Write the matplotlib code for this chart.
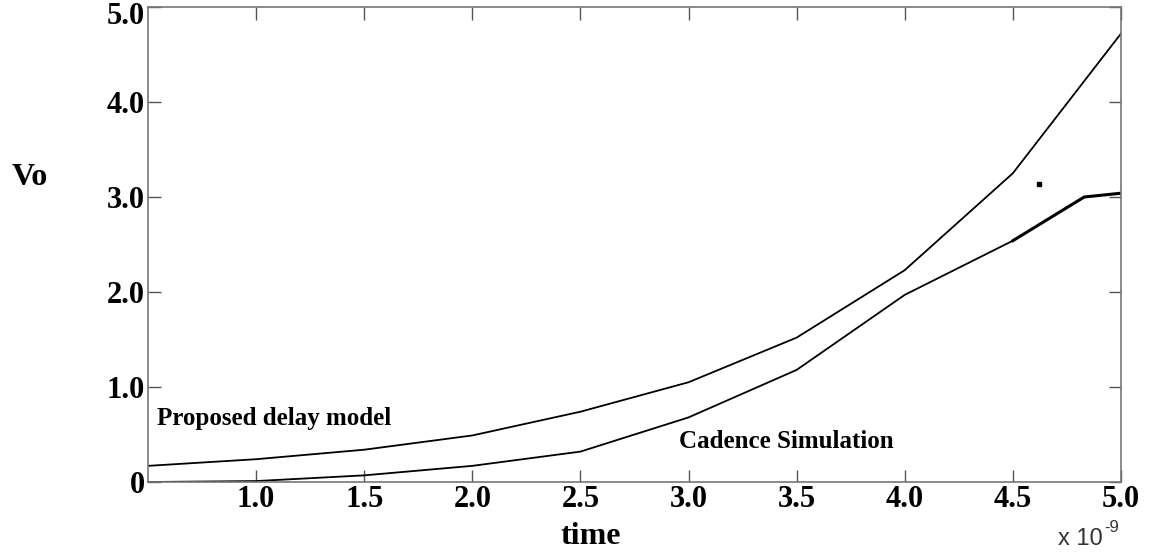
import matplotlib.pyplot as plt
from matplotlib.transforms import ScaledTranslation

# time axis in units of 1e-9 s
t = [0.5, 1.0, 1.5, 2.0, 2.5, 3.0, 3.5, 4.0, 4.5, 5.0]
vo_model = [0.17, 0.24, 0.34, 0.49, 0.74, 1.05, 1.52, 2.23, 3.25, 4.72]

t_cad = [0.5, 1.0, 1.5, 2.0, 2.5, 3.0, 3.5, 4.0, 4.5, 4.83, 5.0]
vo_cad = [0.0, 0.01, 0.07, 0.17, 0.32, 0.68, 1.18, 1.97, 2.54, 3.0, 3.04]

xticks = [1.0, 1.5, 2.0, 2.5, 3.0, 3.5, 4.0, 4.5, 5.0]
yticks = [0, 1.0, 2.0, 3.0, 4.0, 5.0]
ylabels = ['0', '1.0', '2.0', '3.0', '4.0', '5.0']

serif = 'Liberation Serif'

fig = plt.figure(figsize=(11.49, 5.52), dpi=100)
ax = fig.add_axes([0.1288, 0.1268, 0.8468, 0.8605])

ax.plot(t, vo_model, color='black', lw=1.3)
ax.plot(t_cad[:-2], vo_cad[:-2], color='black', lw=1.3)
ax.plot(t_cad[-3:], vo_cad[-3:], color='black', lw=2.2)
# small stray mark left over from the simulator export
ax.plot([4.62], [3.14], marker='s', ms=2.5, color='black')

ax.set_xlim(0.5, 5.0)
ax.set_ylim(0, 5.0)
ax.set_xticks(xticks)
ax.set_xticklabels([f'{v:.1f}' for v in xticks], fontfamily=serif,
                   fontweight='bold', fontsize=22)
ax.set_yticks(yticks)
ax.set_yticklabels(ylabels, fontfamily=serif, fontweight='bold', fontsize=22)
ax.tick_params(direction='in', length=9, width=1, color='#555555',
               top=True, right=True, pad=2)
for s in ax.spines.values():
    s.set_color('#777777')
    s.set_linewidth(1.2)

# nudge the top y label down so it stays inside the figure
top = ax.get_yticklabels()[-1]
top.set_transform(top.get_transform() + ScaledTranslation(0, -6 / 100, fig.dpi_scale_trans))

ax.text(0.54, 0.6, 'Proposed delay model', fontfamily=serif,
        fontweight='bold', fontsize=18)
ax.text(2.955, 0.36, 'Cadence Simulation', fontfamily=serif,
        fontweight='bold', fontsize=18)

fig.text(0.010, 0.665, 'Vo', fontfamily=serif, fontweight='bold', fontsize=23)
fig.text(0.488, 0.014, 'time', fontfamily=serif, fontweight='bold', fontsize=23)
fig.text(0.921, 0.012, 'x 10', fontfamily='Liberation Sans',
         fontsize=17, color='#333333')
fig.text(0.961, 0.037, '-9', fontfamily='Liberation Sans',
         fontsize=12, color='#333333')

fig.savefig('out.png', dpi=100)
